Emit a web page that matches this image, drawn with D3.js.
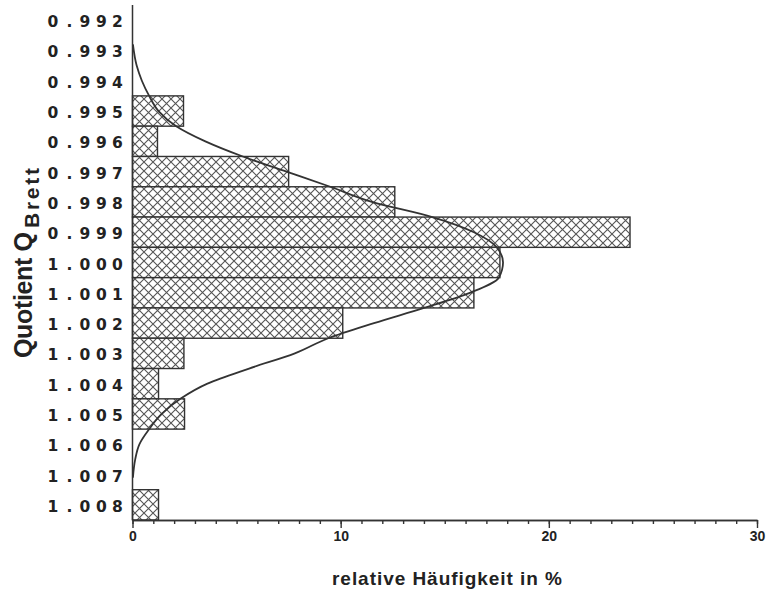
<!DOCTYPE html>
<html>
<head>
<meta charset="utf-8">
<script src="https://cdn.jsdelivr.net/npm/d3@7"></script>
<style>
  body { margin: 0; background: #fff; }
  text { font-family: "Liberation Sans", Arial, sans-serif; font-weight: bold; fill: #222; }
</style>
</head>
<body>
<div id="chart"></div>
<script>
// Quotient classes (y categories)
const categories = ["0.992", "0.993", "0.994", "0.995", "0.996", "0.997", "0.998", "0.999",
  "1.000", "1.001", "1.002", "1.003", "1.004", "1.005", "1.006", "1.007", "1.008"];
// relative frequency in % per class
const frequencies = [0, 0, 0, 2.45, 1.2, 7.5, 12.6, 23.9, 17.65, 16.4, 10.1, 2.47, 1.25, 2.5, 0, 0, 1.25];

// fitted curve (quotient, %)
const curveQ = [0.9928, 0.9935, 0.9940, 0.9945, 0.9950, 0.9955, 0.9960, 0.9965, 0.9970, 0.9975,
  0.9980, 0.9985, 0.9990, 0.9995, 1.0000, 1.0005, 1.0010, 1.0015, 1.0020, 1.0025,
  1.0030, 1.0035, 1.0040, 1.0045, 1.0050, 1.0055, 1.0060, 1.0065, 1.0071];
const curvePct = [0.02, 0.2, 0.45, 0.8, 1.25, 2.1, 3.5, 5.3, 7.4, 9.5,
  11.5, 14.4, 16.4, 17.5, 17.8, 17.6, 16.2, 14.0, 11.6, 9.4,
  7.8, 5.6, 3.6, 2.3, 1.4, 0.8, 0.33, 0.13, 0.02];

// x axis ticks
const majorTicks = [0, 10, 20, 30];
const minorTicks = d3.range(0, 31);

const width = 768, height = 598;
const plot = { left: 132.5, right: 757, top: 5, bottom: 520 };

const svg = d3.select("#chart")
  .append("svg")
  .attr("width", width)
  .attr("height", height);

// cross hatch pattern
const pattern = svg.append("defs").append("pattern")
  .attr("id", "hatch")
  .attr("patternUnits", "userSpaceOnUse")
  .attr("width", 9)
  .attr("height", 9);
pattern.append("rect").attr("width", 9).attr("height", 9).attr("fill", "#fff");
pattern.append("path")
  .attr("d", "M-1,-1L10,10M10,-1L-1,10")
  .attr("stroke", "#555")
  .attr("stroke-width", 1.1);

// scales
const xScale = d3.scaleLinear().domain([0, 30]).range([plot.left, plot.right]);
const yBand = d3.scaleBand().domain(categories).range([plot.top, plot.bottom]).padding(0);
const yLin = d3.scaleLinear()
  .domain([+categories[0], +categories[categories.length - 1]])
  .range([yBand(categories[0]) + yBand.bandwidth() / 2,
          yBand(categories[categories.length - 1]) + yBand.bandwidth() / 2]);

// bars
svg.append("g")
  .selectAll("rect")
  .data(categories.map((c, i) => ({ c, v: frequencies[i] })).filter(d => d.v > 0))
  .join("rect")
  .attr("x", xScale(0))
  .attr("y", d => yBand(d.c))
  .attr("width", d => xScale(d.v) - xScale(0))
  .attr("height", yBand.bandwidth())
  .attr("fill", "url(#hatch)")
  .attr("stroke", "#333")
  .attr("stroke-width", 1.4);

// fitted curve
const line = d3.line()
  .x(d => xScale(d[1]))
  .y(d => yLin(d[0]))
  .curve(d3.curveMonotoneY);

svg.append("path")
  .datum(curveQ.map((q, i) => [q, curvePct[i]]))
  .attr("fill", "none")
  .attr("stroke", "#333")
  .attr("stroke-width", 1.8)
  .attr("d", line);

// y axis line
svg.append("line")
  .attr("x1", xScale(0)).attr("x2", xScale(0))
  .attr("y1", plot.top).attr("y2", plot.bottom)
  .attr("stroke", "#333")
  .attr("stroke-width", 1.5);

// y labels, spread out like the plotter font
const charX = [47.5, 66.5, 79.5, 96, 112];
svg.append("g")
  .selectAll("text")
  .data(categories)
  .join("text")
  .attr("x", charX.join(" "))
  .attr("y", d => yBand(d) + yBand.bandwidth() / 2 + 7)
  .style("font-family", "'DejaVu Sans', sans-serif")
  .style("font-size", "15.5px")
  .text(d => d);

// x axis: minor ticks then major ticks with labels
const xMinor = svg.append("g")
  .attr("transform", "translate(0," + plot.bottom + ")")
  .call(d3.axisBottom(xScale).tickValues(minorTicks).tickSize(4).tickSizeOuter(0).tickFormat(""));
const xMajor = svg.append("g")
  .attr("transform", "translate(0," + plot.bottom + ")")
  .call(d3.axisBottom(xScale).tickValues(majorTicks).tickSize(8).tickSizeOuter(0).tickPadding(3));

[xMinor, xMajor].forEach(g => {
  g.selectAll("path, line").attr("stroke", "#333").attr("stroke-width", 1.4);
});
xMajor.selectAll("text")
  .style("font-size", "14px")
  .style("font-family", "'Liberation Sans', Arial, sans-serif")
  .style("font-weight", "bold")
  .attr("fill", "#222");

// axis titles
svg.append("text")
  .attr("x", 447)
  .attr("y", 585)
  .attr("text-anchor", "middle")
  .attr("textLength", 230)
  .attr("lengthAdjust", "spacing")
  .style("font-size", "19px")
  .text("relative Häufigkeit in %");

svg.append("text")
  .attr("transform", "translate(32,358) rotate(-90)")
  .attr("textLength", 126)
  .attr("lengthAdjust", "spacing")
  .style("font-size", "25px")
  .text("Quotient Q");

svg.append("text")
  .attr("transform", "translate(39,228) rotate(-90)")
  .attr("textLength", 60)
  .attr("lengthAdjust", "spacing")
  .style("font-size", "21px")
  .text("Brett");
</script>
</body>
</html>
